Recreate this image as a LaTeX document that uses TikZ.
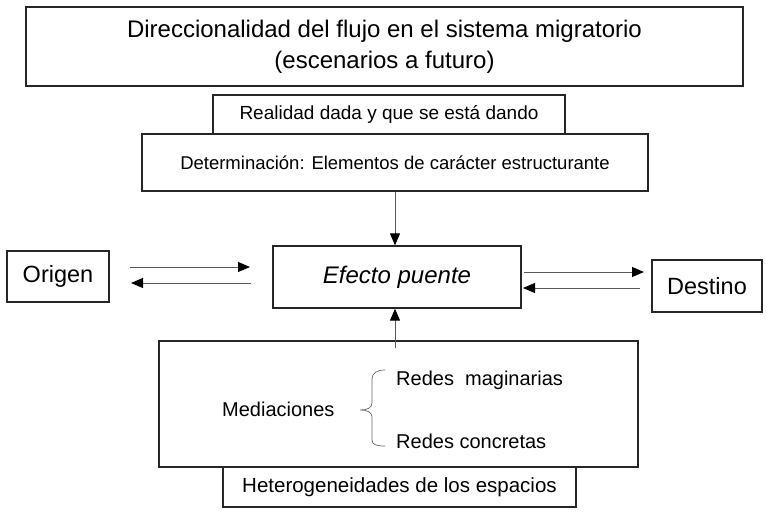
\documentclass[tikz,border=0pt]{standalone}
\usepackage{fontspec}
\setmainfont{Liberation Sans}
\usetikzlibrary{arrows.meta,calc}
\begin{document}
\begin{tikzpicture}[x=1pt,y=-1pt,
  box/.style={draw=black!85, line width=1.3pt, inner sep=0pt, align=center},
  arr/.style={draw=black!65, line width=0.9pt, -{Triangle[length=12pt,width=10pt,color=black]}},
  brace/.style={draw=black!60, line width=0.7pt},
  lbl/.style={inner sep=0pt, font=\fontsize{20}{24}\selectfont},
]
\useasboundingbox (0,0) rectangle (766,514);
\fill[white] (0,0) rectangle (766,514);

\node[box, minimum width=717pt, minimum height=79pt, font=\fontsize{24}{31}\selectfont] (title) at (384.5,46.5)
  {Direccionalidad del flujo en el sistema migratorio\\(escenarios a futuro)};
\node[box, minimum width=352pt, minimum height=39pt, font=\fontsize{19}{22}\selectfont] (real) at (389,114.5)
  {Realidad dada y que se está dando};
\node[box, minimum width=506pt, minimum height=57pt, font=\fontsize{18.5}{22}\selectfont] (det) at (395,162.5)
  {Determinación: Elementos de carácter estructurante};
\node[box, minimum width=248pt, minimum height=62pt, font=\fontsize{24}{28}\selectfont\itshape] (efecto) at (397,277)
  {Efecto puente};
\node[box, minimum width=102pt, minimum height=51pt, font=\fontsize{23.5}{28}\selectfont] (origen) at (58,276.5)
  {Origen};
\node[box, minimum width=110pt, minimum height=52pt, font=\fontsize{23.5}{28}\selectfont] (destino) at (707,286)
  {Destino};
\node[box, minimum width=479pt, minimum height=126pt] (big) at (398.5,404) {};
\node[box, minimum width=353pt, minimum height=40pt, font=\fontsize{20.5}{24}\selectfont] (het) at (399.5,487)
  {Heterogeneidades de los espacios};

\node[lbl, anchor=base west] (med) at (222,416) {Mediaciones};
\node[lbl, anchor=base west] (rim) at (396,385) {Redes \ maginarias};
\node[lbl, anchor=base west] (rco) at (396,448) {Redes concretas};

\draw[brace] (385,370) .. controls (377,370) and (372,373) .. (372,379) -- (372,403)
  .. controls (372,408) and (367,410) .. (360,410)
  .. controls (367,410) and (372,412) .. (372,417) -- (372,440)
  .. controls (372,445) and (377,446) .. (385,446);

\draw[arr] (det.south) -- (det.south |- efecto.north);
\coordinate (up0) at (395,348);
\draw[arr] (up0) -- (up0 |- efecto.south);

\coordinate (oa1) at (130,267);
\coordinate (oa2) at (250,267);
\coordinate (ob1) at (251,283);
\coordinate (ob2) at (131,283);
\draw[arr] (oa1) -- (oa2);
\draw[arr] (ob1) -- (ob2);

\coordinate (da1) at (524,272);
\coordinate (da2) at (644,272);
\coordinate (db1) at (640,288);
\coordinate (db2) at (523,288);
\draw[arr] (da1) -- (da2);
\draw[arr] (db1) -- (db2);
\end{tikzpicture}
\end{document}
